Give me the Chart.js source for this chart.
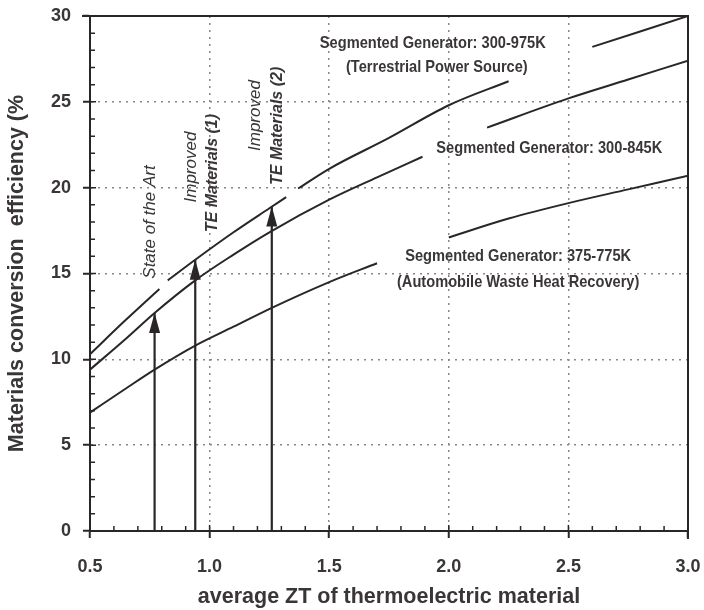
<!DOCTYPE html>
<html>
<head>
<meta charset="utf-8">
<script src="https://cdn.jsdelivr.net/npm/chart.js@4.4.0/dist/chart.umd.min.js"></script>
<style>
  html, body { margin: 0; padding: 0; background: #fff; }
</style>
</head>
<body>
<canvas id="chartZT" width="704" height="610"></canvas>
<script>
// values (null = break in the curve where a label sits)
const ztTop  = [0.5, 0.65, 0.79, 0.81, 0.825, 0.94, 1.1, 1.25, 1.32, 1.345, 1.37, 1.5, 1.75, 2.0, 2.25, 2.4, 2.6, 2.8, 3.0];
const effTop = [10.3, 12.3, 14.1, null, 14.6, 15.8, 17.4, 18.8, 19.45, null, 19.95, 21.1, 22.9, 24.8, 26.2, null, 28.2, 29.1, 30.0];

const ztMid  = [0.5, 0.65, 0.77, 0.94, 1.1, 1.25, 1.5, 1.7, 1.89, 2.0, 2.16, 2.5, 2.75, 3.0];
const effMid = [9.4, 11.2, 12.7, 14.6, 16.1, 17.4, 19.3, 20.6, 21.8, null, 23.5, 25.2, 26.3, 27.4];

const ztLow  = [0.5, 0.65, 0.77, 0.94, 1.1, 1.26, 1.5, 1.7, 1.85, 2.0, 2.25, 2.5, 2.75, 3.0];
const effLow = [6.9, 8.3, 9.4, 10.8, 11.9, 13.0, 14.5, 15.6, null, 17.1, 18.2, 19.1, 19.9, 20.7];

// arrows: State of the Art, Improved (1), Improved (2)
const arrowZT  = [0.77, 0.94, 1.26];
const arrowTop = [12.7, 15.8, 18.9];

const xTicks = [0.5, 1.0, 1.5, 2.0, 2.5, 3.0];
const yTicks = [0, 5, 10, 15, 20, 25, 30];

const INK = '#2a2627';
const TXT = '#3a3637';

function pts(xs, ys) {
    return xs.map(function (x, i) { return { x: x, y: ys[i] }; });
}

const curveStyle = {
    showLine: true,
    borderColor: INK,
    borderWidth: 2,
    pointRadius: 0,
    spanGaps: false,
    cubicInterpolationMode: 'monotone'
};

var datasets = [
    Object.assign({ label: '300-975K', data: pts(ztTop, effTop) }, curveStyle),
    Object.assign({ label: '300-845K', data: pts(ztMid, effMid) }, curveStyle),
    Object.assign({ label: '375-775K', data: pts(ztLow, effLow) }, curveStyle)
];
arrowZT.forEach(function (x, i) {
    datasets.push({
        label: 'arrow' + i,
        isArrow: true,
        data: [{ x: x, y: 0 }, { x: x, y: arrowTop[i] }],
        showLine: true,
        borderColor: INK,
        borderWidth: 2.2,
        pointRadius: 0
    });
});

// text on the plot, placed in data units
const notes = [
    { text: 'Segmented Generator: 300-975K', x: 1.933, y: 28.4, kind: 'gen' },
    { text: '(Terrestrial Power Source)', x: 1.95, y: 27.0, kind: 'gen' },
    { text: 'Segmented Generator: 300-845K', x: 2.42, y: 22.3, kind: 'gen' },
    { text: 'Segmented Generator: 375-775K', x: 2.29, y: 16.0, kind: 'gen' },
    { text: '(Automobile Waste Heat Recovery)', x: 2.29, y: 14.5, kind: 'gen' },
    { text: 'State of the Art', x: 0.754, y: 18.0, kind: 'rot' },
    { text: 'Improved', x: 0.925, y: 21.2, kind: 'rot' },
    { text: 'TE Materials (1)', x: 1.0125, y: 20.85, kind: 'rotb' },
    { text: 'Improved', x: 1.19, y: 24.2, kind: 'rot' },
    { text: 'TE Materials (2)', x: 1.283, y: 23.6, kind: 'rotb' }
];

const decorPlugin = {
    id: 'decor',
    afterDatasetsDraw: function (chart) {
        const ctx = chart.ctx;
        const a = chart.chartArea;
        const xs = chart.scales.x, ys = chart.scales.y;
        ctx.save();
        ctx.strokeStyle = INK;
        ctx.fillStyle = INK;

        // top and right frame
        ctx.lineWidth = 2;
        ctx.beginPath();
        ctx.moveTo(a.left - 8, a.top);
        ctx.lineTo(a.right, a.top);
        ctx.lineTo(a.right, a.bottom + 8);
        ctx.stroke();

        // inward ticks (minor every 1 % and 0.1 ZT)
        ctx.lineWidth = 1.5;
        ctx.beginPath();
        for (var v = 0; v <= 30; v++) {
            var py = ys.getPixelForValue(v);
            ctx.moveTo(a.left, py);
            ctx.lineTo(a.left + (v % 5 === 0 ? 6 : 5), py);
        }
        for (var k = 5; k <= 30; k++) {
            var px = xs.getPixelForValue(k / 10);
            ctx.moveTo(px, a.bottom);
            ctx.lineTo(px, a.bottom - (k % 5 === 0 ? 6 : 5));
        }
        ctx.stroke();

        // arrow heads
        chart.data.datasets.forEach(function (ds, i) {
            if (!ds.isArrow) return;
            const tip = chart.getDatasetMeta(i).data[1];
            ctx.beginPath();
            ctx.moveTo(tip.x, tip.y);
            ctx.lineTo(tip.x - 5.5, tip.y + 20);
            ctx.lineTo(tip.x + 5.5, tip.y + 20);
            ctx.closePath();
            ctx.fill();
        });

        // labels
        ctx.fillStyle = TXT;
        ctx.textAlign = 'center';
        ctx.textBaseline = 'middle';
        notes.forEach(function (n) {
            const px = xs.getPixelForValue(n.x);
            const py = ys.getPixelForValue(n.y);
            ctx.save();
            ctx.translate(px, py);
            if (n.kind === 'gen') {
                ctx.font = 'bold 17px "Liberation Sans", Arial, sans-serif';
                ctx.scale(0.86, 1);
            } else {
                ctx.rotate(-Math.PI / 2);
                ctx.font = n.kind === 'rotb'
                    ? 'italic bold 16px "Liberation Sans", Arial, sans-serif'
                    : 'italic 17px "Liberation Sans", Arial, sans-serif';
            }
            ctx.fillText(n.text, 0, 0);
            ctx.restore();
        });
        ctx.restore();
    }
};

function gridColor(edges) {
    return function (c) {
        return edges.indexOf(c.tick.value) >= 0 ? 'rgba(0,0,0,0)' : '#8a8587';
    };
}

Chart.defaults.font.family = '"Liberation Sans", Arial, sans-serif';

const ctxZT = document.getElementById('chartZT');
new Chart(ctxZT, {
    type: 'scatter',
    data: { datasets: datasets },
    options: {
        responsive: false,
        animation: false,
        devicePixelRatio: 1,
        layout: { padding: 0 },
        plugins: { legend: { display: false }, tooltip: { enabled: false } },
        scales: {
            x: {
                type: 'linear',
                min: 0.5,
                max: 3.0,
                afterFit: function (s) {
                    s.height = 79;
                    s.paddingLeft = 0;
                    s.paddingRight = 16;
                },
                afterBuildTicks: function (s) { s.ticks = xTicks.map(function (v) { return { value: v }; }); },
                ticks: {
                    padding: 18,
                    color: TXT,
                    font: { size: 18, weight: 'bold' },
                    callback: function (v) { return Number(v).toFixed(1); }
                },
                grid: {
                    color: gridColor([0.5, 3.0]),
                    lineWidth: 1.5,
                    tickLength: 7,
                    tickColor: INK,
                    tickWidth: 2
                },
                border: { display: true, color: INK, width: 2, dash: [2, 5] },
                title: {
                    display: true,
                    text: 'average ZT of thermoelectric material',
                    color: TXT,
                    padding: { top: 0, bottom: 0 },
                    font: { size: 21.5, weight: 'bold' }
                }
            },
            y: {
                type: 'linear',
                min: 0,
                max: 30,
                afterFit: function (s) {
                    s.width = 90;
                    s.paddingTop = 16;
                    s.paddingBottom = 0;
                },
                afterBuildTicks: function (s) { s.ticks = yTicks.map(function (v) { return { value: v }; }); },
                ticks: {
                    padding: 12,
                    color: TXT,
                    font: { size: 18, weight: 'bold' }
                },
                grid: {
                    color: gridColor([0, 30]),
                    lineWidth: 1.5,
                    tickLength: 7,
                    tickColor: INK,
                    tickWidth: 2
                },
                border: { display: true, color: INK, width: 2, dash: [2, 5] },
                title: {
                    display: true,
                    text: 'Materials conversion  efficiency (%',
                    color: TXT,
                    padding: { top: 4, bottom: 0 },
                    font: { size: 21.5, weight: 'bold' }
                }
            }
        }
    },
    plugins: [decorPlugin]
});
</script>
</body>
</html>
